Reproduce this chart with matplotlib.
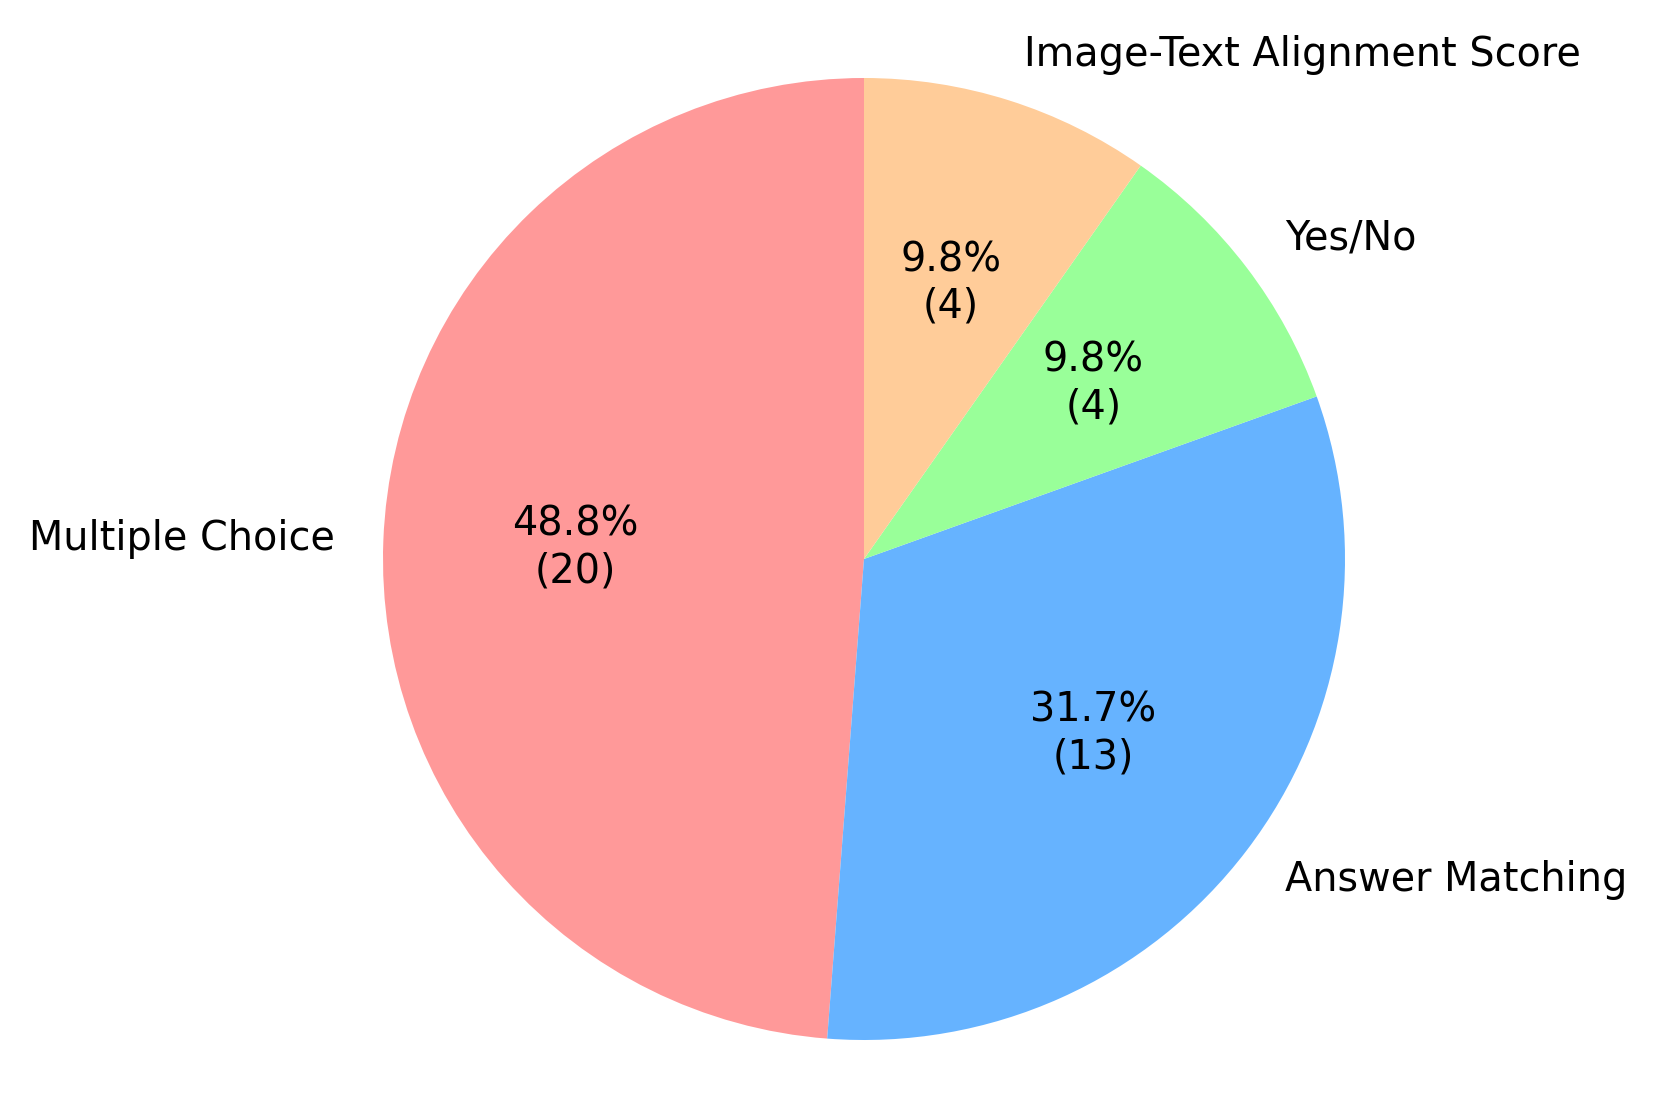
import matplotlib.pyplot as plt

labels = ['Multiple Choice', 'Answer Matching', 'Yes/No', 'Image-Text Alignment Score']
counts = [20, 13, 4, 4]
colors = ['#ff9999', '#66b3ff', '#99ff99', '#ffcc99']

total = sum(counts)


def fmt(pct):
    n = int(round(pct * total / 100.0))
    return '{:.1f}%\n({})'.format(pct, n)


W, H, DPI = 1659, 1118, 200
fig = plt.figure(figsize=(W / DPI, H / DPI), dpi=DPI)

# pie centre and radius in pixels
cx, cy, r = 864, 1118 - 559, 481
half = 1.25 * r
ax = fig.add_axes([(cx - half) / W, (cy - half) / H, 2 * half / W, 2 * half / H])

ax.pie(counts, labels=labels, colors=colors, autopct=fmt, startangle=90,
       textprops={'fontsize': 14.3})
ax.set_xlim(-1.25, 1.25)
ax.set_ylim(-1.25, 1.25)
ax.set_aspect('equal')

fig.savefig('out.png', dpi=DPI)
